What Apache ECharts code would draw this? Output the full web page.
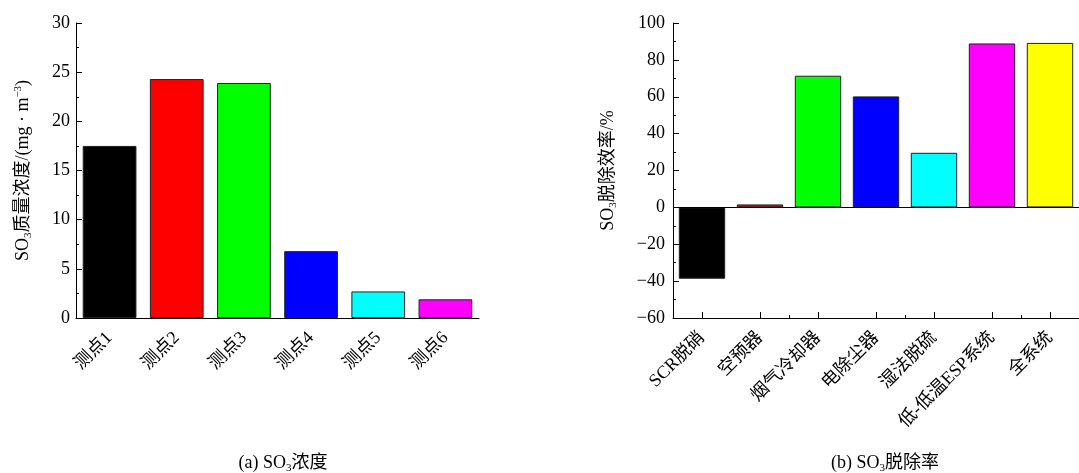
<!DOCTYPE html>
<html>
<head>
<meta charset="utf-8">
<script src="https://cdn.jsdelivr.net/npm/echarts@6/dist/echarts.min.js"></script>
<style>html,body{margin:0;padding:0;background:#fff;}#c{width:1079px;height:473px;}</style>
</head>
<body>
<div id="c"></div>
<script>
const catsA = ['测点1', '测点2', '测点3', '测点4', '测点5', '测点6'];
const valsA = [17.5, 24.3, 23.9, 6.8, 2.7, 1.9];
const colorsA = ['#000000', '#ff0000', '#00ff00', '#0000ff', '#00ffff', '#ff00ff'];

const catsB = ['SCR脱硝', '空预器', '烟气冷却器', '电除尘器', '湿法脱硫', '低-低温ESP系统', '全系统'];
const valsB = [-38.7, 1.6, 71.4, 60.2, 29.6, 88.9, 89.2];
const colorsB = ['#000000', '#ff0000', '#00ff00', '#0000ff', '#00ffff', '#ff00ff', '#ffff00'];

const ticksA = { min: 0, max: 30, interval: 5 };
const ticksB = { min: -60, max: 100, interval: 20 };

const FONT = '"Liberation Serif", "Noto Sans CJK SC", serif';
const rich = {
  n: { fontFamily: FONT, fontSize: 18, color: '#000', fontWeight: 'normal' },
  s: { fontFamily: FONT, fontSize: 11, color: '#000', fontWeight: 'normal', padding: [10, 0, 0, 0] },
  p: { fontFamily: FONT, fontSize: 11, color: '#000', fontWeight: 'normal', padding: [0, 0, 10, 0] }
};

const axisLine = { show: true, lineStyle: { color: '#000', width: 1 } };
const catLabel = { rotate: 45, fontSize: 18, color: '#000', fontFamily: FONT, margin: 17, interval: 0 };

const chart = echarts.init(document.getElementById('c'));
chart.setOption({
  animation: false,
  backgroundColor: '#fff',
  textStyle: { fontFamily: FONT },
  title: [
    { text: '{n|(a) SO}{s|3}{n|浓度}', left: 278, top: 448, textAlign: 'center', textStyle: { rich, fontWeight: 'normal' } },
    { text: '{n|(b) SO}{s|3}{n|脱除率}', left: 880, top: 448, textAlign: 'center', textStyle: { rich, fontWeight: 'normal' } }
  ],
  grid: [
    { left: 76, top: 23, width: 403, height: 295 },
    { left: 673, top: 23, width: 417, height: 295 }
  ],
  xAxis: [
    {
      gridIndex: 0, type: 'category', data: catsA,
      axisLine, axisTick: { show: false },
      axisLabel: catLabel
    },
    {
      gridIndex: 1, type: 'category', data: catsB, position: 'bottom',
      axisLine: { show: true, onZero: false, lineStyle: { color: '#000', width: 1 } },
      axisTick: { show: true, inside: true, alignWithLabel: true, length: 6, lineStyle: { color: '#000' } },
      axisLabel: catLabel
    },
    {
      gridIndex: 1, type: 'category', data: catsB, position: 'bottom',
      axisLine: { show: false, onZero: false },
      axisTick: { show: true, inside: true, length: 3, lineStyle: { color: '#000' } },
      axisLabel: { show: false }
    }
  ],
  yAxis: [
    {
      gridIndex: 0, type: 'value', min: ticksA.min, max: ticksA.max, interval: ticksA.interval,
      axisLine, splitLine: { show: false },
      axisTick: { show: true, inside: true, length: 6, lineStyle: { color: '#000' } },
      minorTick: { show: true, splitNumber: 2, length: 3, lineStyle: { color: '#000' } },
      axisLabel: { fontSize: 18, color: '#000', fontFamily: FONT, margin: 6 },
      name: '{n|SO}{s|3}{n|质量浓度/(mg · m}{p|−3}{n|)}',
      nameLocation: 'middle', nameRotate: 90, nameGap: 42,
      nameTextStyle: { rich }
    },
    {
      gridIndex: 1, type: 'value', min: ticksB.min, max: ticksB.max, interval: ticksB.interval,
      axisLine, splitLine: { show: false },
      axisTick: { show: true, inside: true, length: 6, lineStyle: { color: '#000' } },
      minorTick: { show: true, splitNumber: 2, length: 3, lineStyle: { color: '#000' } },
      axisLabel: { fontSize: 18, color: '#000', fontFamily: FONT, margin: 8,
        formatter: v => String(v).replace('-', '−') },
      name: '{n|SO}{s|3}{n|脱除效率/%}',
      nameLocation: 'middle', nameRotate: 90, nameGap: 54,
      nameTextStyle: { rich }
    }
  ],
  series: [
    {
      type: 'bar', xAxisIndex: 0, yAxisIndex: 0, barWidth: '80%',
      data: valsA.map((v, i) => ({ value: v, itemStyle: { color: colorsA[i] } })),
      itemStyle: { borderColor: '#222', borderWidth: 1 }
    },
    {
      type: 'bar', xAxisIndex: 1, yAxisIndex: 1, barWidth: '80%',
      data: valsB.map((v, i) => ({ value: v, itemStyle: { color: colorsB[i] } })),
      itemStyle: { borderColor: '#222', borderWidth: 1 },
      markLine: {
        silent: true, symbol: ['none', 'none'], label: { show: false },
        lineStyle: { color: '#000', type: 'solid', width: 1 },
        data: [{ yAxis: 0 }]
      }
    }
  ]
});
</script>
</body>
</html>
